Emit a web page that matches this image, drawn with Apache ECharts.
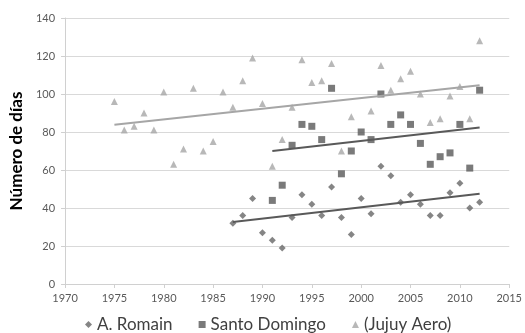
<!DOCTYPE html>
<html><head><meta charset="utf-8">
<script src="https://cdn.jsdelivr.net/npm/echarts@6/dist/echarts.min.js"></script>
<style>html,body{margin:0;padding:0;background:#fff}#c{width:525px;height:333px}</style>
</head><body><div id="c"></div>
<script>
const romainYears = [1987,1988,1989,1990,1991,1992,1993,1994,1995,1996,1997,1998,1999,2000,2001,2002,2003,2004,2005,2006,2007,2008,2009,2010,2011,2012];
const romainValues = [32,36,45,27,23,19,35,47,42,36,51,35,26,45,37,62,57,43,47,42,36,36,48,53,40,43];
const santoYears = [1991,1992,1993,1994,1995,1996,1997,1998,1999,2000,2001,2002,2003,2004,2005,2006,2007,2008,2009,2010,2011,2012];
const santoValues = [44,52,73,84,83,76,103,58,70,80,76,100,84,89,84,74,63,67,69,84,61,102];
const jujuyYears = [1975,1976,1977,1978,1979,1980,1981,1982,1983,1984,1985,1986,1987,1988,1989,1990,1991,1992,1993,1994,1995,1996,1997,1998,1999,2001,2002,2003,2004,2005,2006,2007,2008,2009,2010,2011,2012];
const jujuyValues = [96,81,83,90,81,101,63,71,103,70,75,101,93,107,119,95,62,76,93,118,106,107,116,70,88,91,115,102,108,112,100,85,87,99,104,87,128];
const seriesNames = ['A. Romain','Santo Domingo','(Jujuy Aero)'];
const xTicks = {min:1970,max:2015,interval:5};
const yTicks = {min:0,max:140,interval:20};

function pairs(xs, ys){ return xs.map((x,i)=>[x,ys[i]]); }
function trend(xs, ys){
  const n = xs.length;
  const mx = xs.reduce((a,b)=>a+b,0)/n, my = ys.reduce((a,b)=>a+b,0)/n;
  let sxy=0,sxx=0;
  for(let i=0;i<n;i++){ sxy+=(xs[i]-mx)*(ys[i]-my); sxx+=(xs[i]-mx)*(xs[i]-mx); }
  const b = sxy/sxx, a = my-b*mx;
  const x0 = Math.min(...xs), x1 = Math.max(...xs);
  return [[x0,a+b*x0],[x1,a+b*x1]];
}
const cRomain='#666666', cSanto='#595959', cJujuy='#a6a6a6';
const font = 'Lato, "Liberation Sans", sans-serif';
const chart = echarts.init(document.getElementById('c'), null, {renderer:'canvas'});
chart.setOption({
  animation:false,
  textStyle:{fontFamily:font},
  grid:{left:61.7, right:13.3, top:18, bottom:49, containLabel:false},
  legend:{
    data:[
      {name:seriesNames[0], icon:'diamond'},
      {name:seriesNames[1], icon:'rect'},
      {name:seriesNames[2], icon:'triangle'}
    ],
    left:80, top:311, itemWidth:7, itemHeight:7, itemGap:26,
    textStyle:{fontFamily:font, fontSize:17, color:'#404040'}
  },
  xAxis:{
    type:'value', min:xTicks.min, max:xTicks.max, interval:xTicks.interval,
    axisLine:{show:true, lineStyle:{color:'#d0d0d0'}},
    axisTick:{show:true, length:4, lineStyle:{color:'#d0d0d0'}},
    splitLine:{show:false},
    axisLabel:{color:'#595959', fontSize:11, margin:9, fontFamily:font, formatter:v=>String(v)}
  },
  yAxis:{
    type:'value', min:yTicks.min, max:yTicks.max, interval:yTicks.interval,
    name:'Número de días', nameLocation:'middle', nameGap:31,
    nameTextStyle:{fontSize:17, fontWeight:'bold', color:'#000', fontFamily:font},
    axisLine:{show:true, lineStyle:{color:'#d0d0d0'}},
    axisTick:{show:true, length:4, inside:false, lineStyle:{color:'#d0d0d0'}},
    splitLine:{show:true, lineStyle:{color:'#d9d9d9'}},
    axisLabel:{color:'#595959', fontSize:11, margin:10, fontFamily:font}
  },
  series:[
    {name:seriesNames[2], type:'scatter', symbol:'triangle', symbolSize:7, itemStyle:{color:cJujuy}, data:pairs(jujuyYears,jujuyValues), z:2},
    {name:seriesNames[1], type:'scatter', symbol:'rect', symbolSize:7, itemStyle:{color:cSanto}, data:pairs(santoYears,santoValues), z:3},
    {name:seriesNames[0], type:'scatter', symbol:'diamond', symbolSize:7, itemStyle:{color:cRomain}, data:pairs(romainYears,romainValues), z:4},
    {name:'tJ', type:'line', symbol:'none', lineStyle:{color:cJujuy, width:2}, data:trend(jujuyYears,jujuyValues), z:5, silent:true},
    {name:'tS', type:'line', symbol:'none', lineStyle:{color:cSanto, width:2}, data:trend(santoYears,santoValues), z:5, silent:true},
    {name:'tR', type:'line', symbol:'none', lineStyle:{color:cSanto, width:2}, data:trend(romainYears,romainValues), z:5, silent:true}
  ]
});
</script></body></html>
